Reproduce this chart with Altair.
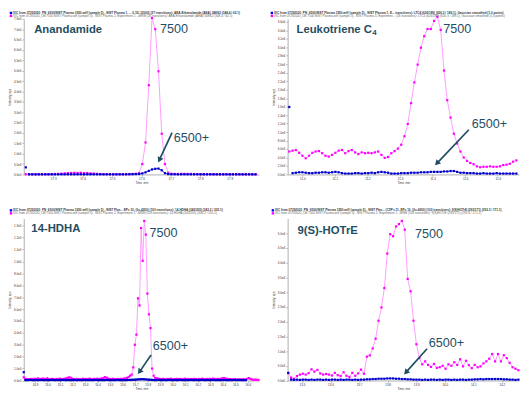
import math
import altair as alt
import pandas as pd

FONT = "Liberation Sans"
TEAL = "#1f4e63"
PINK_LINE = "#ff9cff"
PINK_DOT = "#ff00ff"
BLUE_LINE = "#3030ff"
BLUE_DOT = "#0000c8"
AXIS_GREY = "#9a9a9a"

# ---------------- data (intensities in thousands of cps) ----------------
# Anandamide
ana_t0, ana_dt = 17.207, 0.011
ana_7500 = [1.0, 0.5, 0.8, 0.5, 1.0, 0.8, 1.2, 1.0, 1.5, 2.0, 2.5,
            4.0, 5.0, 6.0, 7.0, 8.0, 7.0, 8.0, 6.0, 7.0, 5.0, 4.0, 3.0,
            2.0, 1.5, 1.0, 1.2, 0.8, 1.0, 0.8, 1.0, 1.2, 1.5, 2.0, 3.0,
            6.0, 50, 154, 430, 754, 700, 497, 196, 50, 8.0,
            3.0, 2.5, 2.0, 3.0, 2.5, 2.0, 2.5, 2.0, 1.5, 1.5, 1.0, 1.2, 1.0, 0.8,
            1.0, 0.8, 0.6, 0.8, 0.5, 0.6, 0.5, 0.5, 0.4, 0.5, 0.4, 0.5, 0.4]
ana_6500 = [34.0,
            0.5, 0.3, 0.4, 0.3, 0.5, 0.4, 0.3, 0.4, 0.5, 0.3,
            0.4, 0.3, 0.5, 0.4, 0.3, 0.4, 0.5, 0.3, 0.4, 0.3,
            0.5, 0.4, 0.3, 0.4, 0.5, 0.3, 0.4, 0.3, 0.5, 0.4,
            0.6, 0.8, 1.0, 1.5,
            2.0, 5.0, 10.0, 17.0, 24.0, 27.0, 28.0, 20.0, 6.0, 1.5,
            0.8, 0.5, 0.4, 0.3, 0.5, 0.4, 0.3, 0.4, 0.5, 0.3,
            0.4, 0.3, 0.5, 0.4, 0.3, 0.4, 0.5, 0.3, 0.4, 0.3,
            0.5, 0.4, 0.3, 0.4, 0.5, 0.3, 0.4]
ana_xticks = [17.3, 17.4, 17.5, 17.6, 17.7, 17.8, 17.9]
ana_yticks = [0, 50000, 100000, 150000, 200000, 250000, 300000, 350000,
              400000, 450000, 500000, 550000, 600000, 650000, 700000, 750000]

# Leukotriene C4
ltc_t0, ltc_dt = 10.96, 0.0101
ltc_7500 = [5.4, 5.6, 5.75, 5.1, 4.4, 3.8, 4.4, 5.1, 5.4, 5.5,
            5.0, 4.4, 4.2, 4.6, 5.1, 5.6, 5.75, 5.0, 5.5, 5.75,
            5.2, 4.8, 5.2, 5.0, 5.1, 5.0, 5.2, 5.4, 4.6, 3.9,
            4.1, 5.0, 5.5, 6.1, 7.0, 9.0, 11.9, 16.8,
            21.7, 25.9, 29.9, 32.6, 34.3, 34.3, 36.2, 37.2, 34.1, 24.5, 17.5,
            13.4, 9.6, 7.3, 5.4, 4.0, 3.2, 2.7, 2.4, 1.9, 1.7,
            1.8, 1.8, 1.9, 1.8, 1.8, 1.9, 2.2, 2.3, 2.5, 3.0, 3.3]
ltc_6500 = [15.9,
            0.3, 0.4, 0.5, 0.5, 0.4, 0.3, 0.3, 0.4, 0.4, 0.5, 0.5, 0.4, 0.5, 0.6, 0.5,
            0.3, 0.2, 0.2, 0.2, 0.3, 0.3, 0.2, 0.3, 0.3, 0.4, 0.3, 0.5, 0.6, 0.5, 0.4,
            0.2, 0.2, 0.2, 0.3, 0.3, 0.3, 0.4, 0.4, 0.4, 0.5,
            0.5, 0.5, 0.6, 0.6, 0.6, 0.6, 0.7, 0.7, 0.8, 0.8,
            0.6, 0.4, 0.4, 0.3, 0.3, 0.3, 0.2, 0.2, 0.3, 0.2,
            0.2, 0.2, 0.3, 0.2, 0.2, 0.2, 0.2, 0.2, 0.2]
ltc_xticks = [11.0, 11.1, 11.2, 11.3, 11.4, 11.5, 11.6]
ltc_yticks = [0, 2000, 4000, 6000, 8000, 10000, 12000, 14000, 16000, 18000,
              20000, 22000, 24000, 26000, 28000, 30000, 32000, 34000, 36000]

# 14-HDHA
hdha_t0, hdha_dt = 14.81, 0.0125
hdha_7500 = [2.7, 1.5, 1.0, 1.2, 0.9, 1.3, 1.0, 1.5, 1.2, 1.8, 1.3, 1.0, 1.6, 1.4, 1.1, 1.9, 1.2, 1.0, 1.4, 1.2,
             0.9, 1.3, 1.1, 1.6, 1.2, 1.0, 1.4, 1.7, 2.2, 2.6, 2.3, 1.5, 1.2, 1.0, 1.3, 1.1, 0.9, 1.2, 1.5, 1.0,
             1.3, 1.1, 1.6, 1.2, 1.0, 1.4, 1.1, 1.5, 1.2, 1.4, 1.7, 2.2, 2.8, 2.3, 1.5, 1.3, 1.1, 1.5, 1.2, 1.0,
             1.3, 1.1, 1.4, 1.2, 1.6, 1.8, 2.2,
             3.0, 4.0, 5.0, 11.0, 30.0, 38.5, 69.0, 63.0, 128.0, 100.5, 134.0, 122.5, 73.0, 55.6, 44.0,
             10.0, 4.0, 2.0,
             1.8, 1.5, 1.3, 1.2, 1.4, 1.1, 1.0, 1.3, 1.2, 1.5,
             1.1, 1.0, 1.2, 1.4, 1.1, 1.3, 1.0, 1.2, 1.5, 1.1,
             1.3, 1.0, 1.2, 1.1, 1.4, 1.2, 1.0, 1.3, 1.1, 1.5,
             1.2, 1.0, 1.3, 1.1, 1.4, 1.2, 1.6, 1.3, 1.1, 1.4,
             1.2, 1.5, 1.8, 2.0, 1.6, 1.3, 1.1, 1.2, 1.0, 0.9,
             1.1, 0.8, 1.0, 0.9, 0.8, 1.0, 0.9, 0.8, 1.6, 2.0, 1.2, 0.8, 0.6, 0.7, 0.6, 0.5]
hdha_6500 = [7.0,
             0.4, 0.3, 0.4, 0.5, 0.4, 0.3, 0.4, 0.4, 0.3, 0.4,
             0.5, 0.4, 0.3, 0.4, 0.4, 0.3, 0.4, 0.5, 0.4, 0.3,
             0.4, 0.4, 0.3, 0.4, 0.5, 0.4, 0.3, 0.4, 0.4, 0.3,
             0.4, 0.5, 0.4, 0.3, 0.4, 0.4, 0.3, 0.4, 0.5, 0.4,
             0.3, 0.4, 0.4, 0.3, 0.4, 0.5, 0.4, 0.3, 0.4, 0.4,
             0.3, 0.4, 0.5, 0.4, 0.3, 0.4, 0.4, 0.3, 0.4, 0.5,
             0.4, 0.3, 0.4, 0.4, 0.3, 0.4, 0.5, 0.5, 0.6,
             0.6, 0.7, 0.8, 0.9, 1.0, 1.1, 1.1, 1.0, 0.9, 0.8, 0.7, 0.6, 0.5,
             0.4, 0.3, 0.4, 0.5, 0.4, 0.3, 0.4, 0.4, 0.3, 0.4,
             0.5, 0.4, 0.3, 0.4, 0.4, 0.3, 0.4, 0.5, 0.4, 0.3,
             0.4, 0.4, 0.3, 0.4, 0.5, 0.4, 0.3, 0.4, 0.4, 0.3,
             0.4, 0.5, 0.4, 0.3, 0.4, 0.4, 0.3, 0.4, 0.5, 0.4,
             0.3, 0.4, 0.4, 0.3, 0.4, 0.5, 0.4, 0.3, 0.4, 0.4,
             0.3, 0.4, 0.5, 0.4, 0.3, 0.4, 0.4, 0.3, 0.4, 0.3]
hdha_xticks = [14.9, 15.0, 15.1, 15.2, 15.3, 15.4, 15.5, 15.6, 15.7, 15.8,
               15.9, 16.0, 16.1, 16.2, 16.3, 16.4, 16.5, 16.6]
hdha_yticks = [0, 10000, 20000, 30000, 40000, 50000, 60000, 70000, 80000,
               90000, 100000, 110000, 120000, 130000]

# 9(S)-HOTrE
hot_t0, hot_dt = 13.452, 0.0102
hot_7500 = [2.5, 1.0, 0.6, 1.5, 2.0, 2.3, 2.0, 2.5, 3.8, 3.0,
            3.6, 2.4, 2.0, 2.2, 2.0, 1.7, 2.6, 1.8, 1.5, 2.8,
            1.6, 1.2, 2.6, 1.6, 2.4, 3.7, 2.3, 8.1, 8.5, 10.9,
            14.2, 20.3, 24.8, 31.4, 43.1, 49.7, 49.0, 52.3, 53.1, 54.2,
            51.2, 34.5, 30.3, 20.3, 12.3, 7.6, 5.5, 6.5, 5.3, 4.6,
            5.6, 4.3, 4.5, 5.0, 4.0, 5.5, 5.0, 6.2, 5.3, 7.2,
            4.8, 6.7, 5.2, 4.2, 5.3, 4.5, 4.8, 5.8, 6.5, 7.4,
            9.0, 6.5, 9.0, 6.5, 8.6, 7.6, 6.0, 4.5, 4.0, 3.5]
hot_6500 = [2.6,
            0.3, 0.2, 0.3, 0.2, 0.3, 0.3, 0.2, 0.3, 0.2, 0.3,
            0.3, 0.2, 0.3, 0.2, 0.3, 0.3, 0.2, 0.3, 0.2, 0.3,
            0.3, 0.2, 0.3, 0.2, 0.3, 0.3, 0.4, 0.4, 0.5, 0.5,
            0.6, 0.6, 0.6, 0.7, 0.7, 0.7, 0.6, 0.6, 0.5, 0.5,
            0.4, 0.4, 0.3, 0.3, 0.3, 0.2, 0.3, 0.2, 0.3, 0.3,
            0.2, 0.3, 0.2, 0.3, 0.3, 0.2, 0.3, 0.2, 0.3, 0.3,
            0.2, 0.3, 0.3, 0.4, 0.4, 0.5, 0.4, 0.5, 0.5, 0.5,
            0.5, 0.5, 0.5, 0.4, 0.4, 0.3, 0.3, 0.2, 0.3]
hot_xticks = [13.5, 13.6, 13.7, 13.8, 13.9, 14.0, 14.1, 14.2]
hot_yticks = [0, 5000, 10000, 15000, 20000, 25000, 30000, 35000, 40000, 45000, 50000]

# header texts
hdr = {
    "ana": ["XIC from 07292020_PN_6500/NIST Plasma 1950.wiff (sample 5) - NIST Plasma 1, ... 0.15/-12000) (27 transitions): AEA-Ethanolamide (AEA) 348/62 (348.4 / 62.1)",
            "XIC from 07292020_LM 7500 NIST Plasma.wiff (sample 3) - NIST Plasma 2, Experiment 2, +MRM (26 transitions): AEA-Ethanolamide (AEA) 348/62 (348.4 / 62.1)"],
    "ltc": ["XIC from 07292020_PN_6500/NIST Plasma 1950.wiff (sample 5) - NIST Plasma 1, E... transitions): LTC4 (626/189) (626.3 / 189.1), Gaussian smoothed (1.0 points)",
            "XIC from 07292020_LM 7500 NIST Plasma.wiff (sample 3) - NIST Plasma 3, Experimen... (26 transitions): LTC4 (626/189) (626.3 / 189.1), Gaussian smoothed (1.0 points)"],
    "hdha": ["XIC from 07292020_PN_6500/NIST Plasma 1950.wiff (sample 5) - NIST Plas... EP= 10, (0=-4200) (103 transitions): 14-HDHA (343/205) (343.2 / 205.1)",
             "XIC from 07292020_LM 7500 NIST Plasma.wiff (sample 3) - NIST Plasma 2, Experiment 1, -MRM (103 transitions): 14-HDHA (343/205) (343.2 / 205.1)"],
    "hot": ["XIC from 07292020_PN_6500/NIST Plasma 1950.wiff (sample 5) - NIST Plas... (CXP= 11, EP= 10, (0=-4200) (103 transitions): 9(S)HOTrE (293/171) (293.3 / 171.1)",
            "XIC from 07292020_LM 7500 NIST Plasma.wiff (sample 3) - NIST Plasma 2, Experiment 1, -MRM (103 transitions): 9(S)HOTrE (293/171) (293.3 / 171.1)"],
}

ONE = pd.DataFrame({"k": [0]})
HDR_FS = 3.1


def series_df(t0, dt, values):
    return pd.DataFrame({"t": [round(t0 + dt * i, 4) for i in range(len(values))],
                         "v": [v * 1000 for v in values]})


def text_layer(text, x, y, size, weight="normal", color=TEAL, baseline="alphabetic"):
    return alt.Chart(ONE).mark_text(text=text, font=FONT, fontSize=size, fontWeight=weight,
                                    color=color, align="left", baseline=baseline).encode(
        x=alt.value(x), y=alt.value(y))


def arrow_layers(x1, y1, x2, y2):
    L = math.hypot(x2 - x1, y2 - y1)
    ux, uy = (x2 - x1) / L, (y2 - y1) / L
    head = 5.5
    r = head / math.sqrt(3)
    size = 4 * r * r
    cx, cy = x2 - ux * head / 2, y2 - uy * head / 2
    ang = math.degrees(math.atan2(ux, -uy)) % 360
    shaft = alt.Chart(ONE).mark_rule(color=TEAL, strokeWidth=1.7).encode(
        x=alt.value(x1), y=alt.value(y1), x2=alt.value(cx), y2=alt.value(cy))
    tip = alt.Chart(ONE).mark_point(shape="triangle-up", filled=True, size=size, angle=ang,
                                    color=TEAL, opacity=1, strokeWidth=0).encode(
        x=alt.value(cx), y=alt.value(cy))
    return [shaft, tip]


def header_layers(x, y1, y2, lines):
    return [
        alt.Chart(ONE).mark_square(size=6, color="#0000ff", opacity=1).encode(x=alt.value(x), y=alt.value(y1)),
        text_layer(lines[0], x + 2.2, y1, HDR_FS, weight="bold", color="#333333", baseline="middle"),
        alt.Chart(ONE).mark_square(size=6, color="#ff00ff", opacity=1).encode(x=alt.value(x), y=alt.value(y2)),
        text_layer(lines[1], x + 2.2, y2, HDR_FS, color="#666666", baseline="middle"),
    ]


def panel(t0, dt, pink, blue, xdom, ydom, xticks, yticks, w, h, extra):
    dp = series_df(t0, dt, pink)
    db = series_df(t0, dt, blue)
    common = dict(labelFont=FONT, labelFontSize=3, labelColor="#333333", tickSize=2,
                  tickColor=AXIS_GREY, domainColor=AXIS_GREY, domainWidth=0.8, tickWidth=0.6,
                  labelPadding=1, titleFont=FONT, titleFontSize=3, titleFontWeight="normal",
                  titleColor="#333333", titlePadding=1.5, grid=False, labelOverlap=False,
                  labelFlush=False)
    x = alt.X("t:Q", scale=alt.Scale(domain=xdom, nice=False, zero=False),
              axis=alt.Axis(values=xticks, format=".1f", title="Time, min", **common))
    y = alt.Y("v:Q", scale=alt.Scale(domain=ydom, nice=False, zero=True),
              axis=alt.Axis(values=yticks, labelExpr="replace(format(datum.value, '.1e'), '+', '')",
                            title="Intensity, cps", **common))
    layers = [
        alt.Chart(dp).mark_line(color=PINK_LINE, strokeWidth=1).encode(x=x, y=y),
        alt.Chart(dp).mark_square(color=PINK_DOT, size=5, opacity=1).encode(x=x, y=y),
        alt.Chart(db.iloc[1:]).mark_line(color=BLUE_LINE, strokeWidth=1).encode(x=x, y=y),
        alt.Chart(db).mark_square(color=BLUE_DOT, size=5, opacity=1).encode(x=x, y=y),
    ] + extra
    return alt.layer(*layers).properties(width=w, height=h)


W1, W2, H1, H2 = 239, 235, 158, 164.5
TS, NS = 11.5, 12.8
R1A, R1B = -6.0, -3.0     # header rows, top panels
R2A, R2B = -8.3, -5.3     # header rows, bottom panels

p1 = panel(ana_t0, ana_dt, ana_7500, ana_6500, [17.2, 18.0], [0, 750000], ana_xticks, ana_yticks, W1, H1,
           header_layers(-13, R1A, R1B, hdr["ana"])
           + [text_layer("Anandamide", 10.6, 14.2, TS, weight="bold"),
              text_layer("7500", 138.3, 14.8, NS),
              text_layer("6500+", 152.3, 125.5, NS)]
           + arrow_layers(150.6, 115.6, 136.6, 145.8))

p2 = panel(ltc_t0, ltc_dt, ltc_7500, ltc_6500, [10.955, 11.665], [0, 36700], ltc_xticks, ltc_yticks, W2, H1,
           header_layers(-16, R1A, R1B, hdr["ltc"])
           + [text_layer("Leukotriene C", 9, 14.2, TS, weight="bold"),
              text_layer("4", 86, 16.4, 8, weight="bold"),
              text_layer("7500", 158, 14.2, NS),
              text_layer("6500+", 187, 110.9, NS)]
           + arrow_layers(184, 112.6, 149.7, 148.8))

p3 = panel(hdha_t0, hdha_dt, hdha_7500, hdha_6500, [14.81, 16.69], [0, 136000], hdha_xticks, hdha_yticks, W1, H2,
           header_layers(-13, R2A, R2B, hdr["hdha"])
           + [text_layer("14-HDHA", 7.7, 13.7, TS, weight="bold"),
              text_layer("7500", 127.7, 18.7, NS),
              text_layer("6500+", 131, 133.7, NS)]
           + arrow_layers(129.3, 138.7, 116, 158))

p4 = panel(hot_t0, hot_dt, hot_7500, hot_6500, [13.45, 14.26], [0, 55000], hot_xticks, hot_yticks, W2, H2,
           header_layers(-15, R2A, R2B, hdr["hot"])
           + [text_layer("9(S)-HOTrE", 10, 16, TS, weight="bold"),
              text_layer("7500", 129.3, 20, NS),
              text_layer("6500+", 143.3, 130.6, NS)]
           + arrow_layers(141.6, 132.3, 118.3, 158.3))

chart = alt.concat(p1, p2, p3, p4, columns=2,
                   spacing=alt.RowColnumber(row=44.8, column=29),
                   bounds="flush").properties(padding=0).configure_view(stroke=None)

chart.save("out.html", embed_options={"renderer": "svg", "actions": False})
